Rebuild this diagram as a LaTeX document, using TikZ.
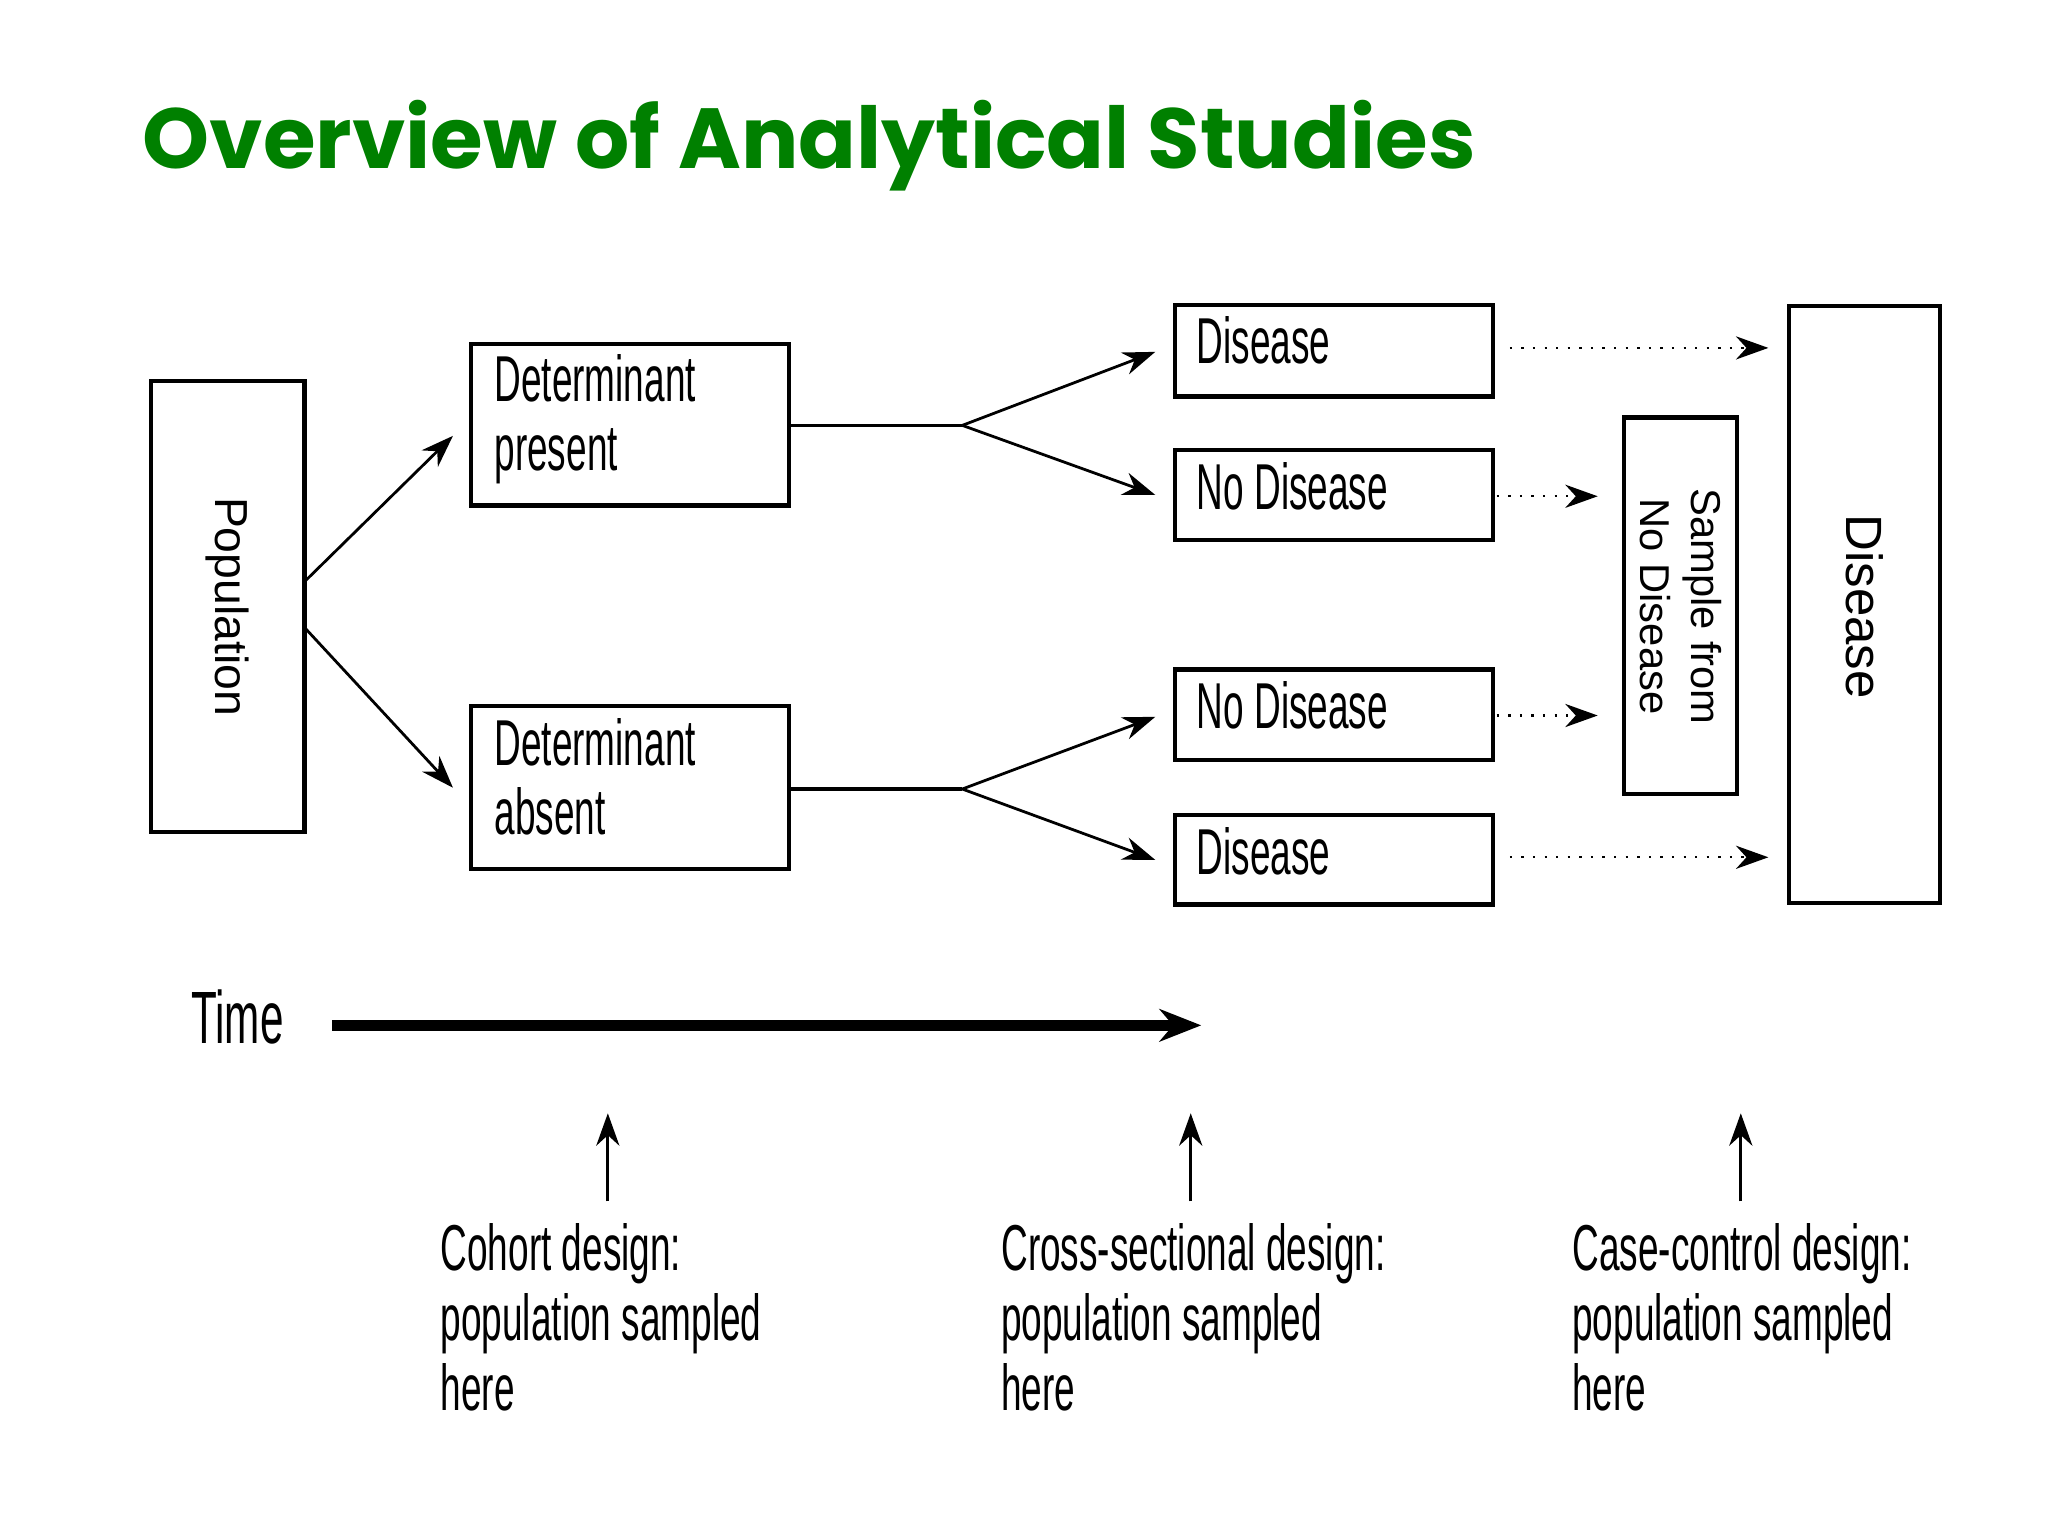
\documentclass[tikz,border=0pt]{standalone}
\usepackage{fontspec}
\setmainfont{Liberation Sans}
\newfontfamily\ttl{Poppins}
\usetikzlibrary{arrows.meta}
\definecolor{ttlgreen}{RGB}{0,128,0}
\newcommand{\nar}[1]{\scalebox{0.57}[1]{#1}}
\begin{document}
\begin{tikzpicture}[x=0.2833pt,y=-0.2833pt,
  box/.style={draw,line width=0.9pt},
  lbl/.style={anchor=base west,inner sep=0,font=\fontsize{14}{16}\selectfont},
  arr/.style={-{Stealth[length=7pt,width=5pt]},line width=0.6pt},
  dot/.style={-{Stealth[length=7pt,width=5pt]},line width=0.5pt,dotted},
  rot/.style={font=\fontsize{10}{11}\selectfont,rotate=-90}]
\useasboundingbox (0,0) rectangle (1560,1170);
\node[anchor=base west,inner sep=0,text=ttlgreen,font=\ttl\bfseries\fontsize{18.4}{21}\selectfont] (title) at (108,128) {Overview of Analytical Studies};
% boxes
\draw[box] (115,290) rectangle (232,634);
\node[rot] (pop) at (173,462) {Population};
\draw[box] (359,262) rectangle (601,385);
\node[lbl] (dp1) at (376,306) {\nar{Determinant}};
\node[lbl] (dp2) at (376,358) {\nar{present}};
\draw[box] (359,538) rectangle (601,662);
\node[lbl] (da1) at (376,583) {\nar{Determinant}};
\node[lbl] (da2) at (376,636) {\nar{absent}};
\draw[box] (895,232) rectangle (1137,302);
\node[lbl] (d1) at (911,277) {\nar{Disease}};
\draw[box] (895,343) rectangle (1137,411);
\node[lbl] (nd1) at (911,388) {\nar{No Disease}};
\draw[box] (895,510) rectangle (1137,579);
\node[lbl] (nd2) at (911,555) {\nar{No Disease}};
\draw[box] (895,621) rectangle (1137,689);
\node[lbl] (d2) at (911,666) {\nar{Disease}};
\draw[box] (1237,318) rectangle (1323,605);
\node[rot,align=center,font=\fontsize{9}{11}\selectfont] (smp) at (1280,462) {Sample from\\No Disease};
\draw[box] (1363,233) rectangle (1478,688);
\node[rot,font=\fontsize{11}{13}\selectfont] (dis) at (1420,462) {Disease};
% connectors
\coordinate (pa) at (232,443); \coordinate (pb) at (232,478);
\draw[arr] (pa) -- (345,332);
\draw[arr] (pb) -- (345,600);
\coordinate (j1) at (733,324); \coordinate (j2) at (733,601);
\draw[line width=0.8pt] (601,324) -- (j1);
\draw[arr] (j1) -- (880,268);
\draw[arr] (j1) -- (880,377);
\draw[line width=0.8pt] (601,601) -- (j2);
\draw[arr] (j2) -- (880,546);
\draw[arr] (j2) -- (880,655);
\draw[dot] (1150,265) -- (1347,265);
\draw[dot] (1140,378) -- (1217,378);
\draw[dot] (1140,545) -- (1217,545);
\draw[dot] (1150,653) -- (1347,653);
% time
\node[lbl,font=\fontsize{16}{18}\selectfont] (time) at (145,795) {\nar{Time}};
\draw[-{Stealth[length=9pt,width=7pt]},line width=2.5pt] (253,781) -- (915,781);
% sampling arrows
\foreach \x/\n in {463/a,907/b,1326/c}{
  \coordinate (s\n) at (\x,915);
  \draw[arr] (s\n) -- (\x,848);
}
\foreach \x/\t/\n in {335/{Cohort design:}/c,762/{Cross-sectional design:}/x,1197/{Case-control design:}/k}{
  \node[lbl] (\n1) at (\x,968) {\nar{\t}};
  \node[lbl] (\n2) at (\x,1021) {\nar{population sampled}};
  \node[lbl] (\n3) at (\x,1074) {\nar{here}};
}
\end{tikzpicture}
\end{document}
